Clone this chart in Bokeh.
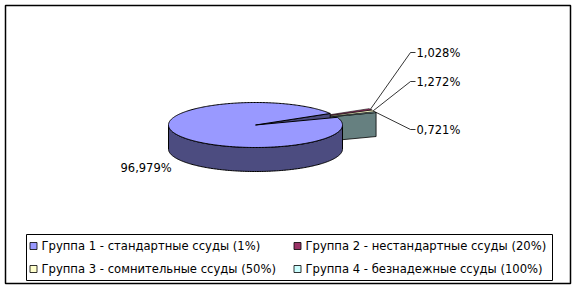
import numpy as np
from bokeh.plotting import figure
from bokeh.embed import file_html
from bokeh.resources import INLINE
from bokeh.core.properties import value

# ---- data ----
categories = ["Группа 1 - стандартные ссуды (1%)",
              "Группа 2 - нестандартные ссуды (20%)",
              "Группа 3 - сомнительные ссуды (50%)",
              "Группа 4 - безнадежные ссуды (100%)"]
shares = [96.979, 1.028, 1.272, 0.721]
share_labels = ["96,979%", "1,028%", "1,272%", "0,721%"]

# ---- styles / layout ----
top_colors = ["#9999FF", "#993366", "#FFFFCC", "#CCFFFF"]
side_colors = ["#4C4C80", "#4D1A33", "#808066", "#668080"]
FONT = "DejaVu Sans"
W, H = 578, 289
cx, cy = 255.0, 124.5
rx, ry = 87.0, 22.5
depth = 24.0
start_deg = 20.0
explode = 43.0
k = ry / rx

p = figure(width=W, height=H, x_range=(0, W), y_range=(H, 0),
           output_backend="svg", toolbar_location=None,
           min_border=0, background_fill_color="white",
           border_fill_color="white", outline_line_color=None)
p.axis.visible = False
p.grid.visible = False

# angles: counter-clockwise from start_deg in order group4, group3, group2, group1
order = [3, 2, 1, 0]
ang = {}
acc = start_deg
for i in order:
    span = shares[i] / sum(shares) * 360.0
    ang[i] = (acc, acc + span)
    acc += span


def pt(theta_deg, r=1.0, dx=0.0, dy=0.0, z=0.0):
    t = np.radians(theta_deg)
    return cx + dx + rx * r * np.cos(t), cy + dy - ry * r * np.sin(t) + z


def arc(a, b, n=120, dx=0.0, dy=0.0, z=0.0):
    ts = np.linspace(a, b, n)
    xs, ys = pt(ts, 1.0, dx, dy, z)
    return list(xs), list(ys)


# explosion offset for the small slices (group direction)
small_a = ang[3][0]
small_b = ang[1][1]
phi = np.radians((small_a + small_b) / 2)
ex_dx = explode * np.cos(phi)
ex_dy = -explode * k * np.sin(phi)

# --- small exploded slices: radial face of group 4 (front facing) ---
a4 = ang[3][0]
tx, ty = cx + ex_dx, cy + ex_dy
rx4, ry4 = pt(a4, 1.0, ex_dx, ex_dy)
p.patch([tx, rx4, rx4, tx], [ty, ry4, ry4 + depth, ty + depth],
        fill_color=side_colors[3], line_color="black", line_width=0.8)

# top faces of the small slices
for i in [3, 2, 1]:
    a, b = ang[i]
    xs, ys = arc(a, b, 20, ex_dx, ex_dy)
    p.patch([tx] + xs, [ty] + ys, fill_color=top_colors[i],
            line_color="black", line_width=0.6)

# --- big slice ---
a1, b1 = ang[0]
# radial face at a1 (front facing, visible through the gap)
fx, fy = pt(a1)
p.patch([cx, fx, fx, cx], [cy, fy, fy + depth, cy + depth],
        fill_color=side_colors[0], line_color="black", line_width=0.8)
# side wall (front half)
xs, ys = arc(180, 360, 160)
xb, yb = arc(180, 360, 160, z=depth)
p.patch(xs + xb[::-1], ys + yb[::-1], fill_color=side_colors[0],
        line_color="black", line_width=1)
# top face
xs, ys = arc(a1, b1, 360)
p.patch([cx] + xs, [cy] + ys, fill_color=top_colors[0],
        line_color="black", line_width=1)

# --- leader lines and labels for small slices ---
label_y = {1: 52, 2: 81, 3: 129}
elbow_x = 410
for i in [1, 2, 3]:
    a, b = ang[i]
    mx, my = pt((a + b) / 2, 1.0, ex_dx, ex_dy)
    ly = label_y[i]
    p.line([mx, elbow_x, elbow_x + 5], [my, ly, ly], line_color="black",
           line_width=0.8)
    p.text([elbow_x + 6], [ly], text=[share_labels[i]],
           text_font=value(FONT), text_font_size="11.5px",
           text_baseline="middle", text_align="left", text_color="black")

# big slice label
p.text([120], [167], text=[share_labels[0]], text_font=value(FONT),
       text_font_size="11.5px", text_baseline="middle", text_align="left",
       text_color="black")

# --- outer frame ---
p.patch([5, 570, 570, 5], [5, 5, 283, 283], fill_color=None,
        line_color="black", line_width=1.5)

# --- legend ---
p.patch([26, 552, 552, 26], [234, 234, 280, 280], fill_color=None,
        line_color="black", line_width=1)
leg_x = [33, 297, 33, 297]
leg_y = [245.5, 245.5, 268.5, 268.5]
p.rect(leg_x, leg_y, width=7, height=7, fill_color=top_colors,
       line_color="black", line_width=0.8)
p.text([x + 8 for x in leg_x], leg_y, text=categories,
       text_font=value(FONT), text_font_size="11.6px",
       text_baseline="middle", text_align="left", text_color="black")

open("out.html", "w").write(file_html(p, INLINE))
